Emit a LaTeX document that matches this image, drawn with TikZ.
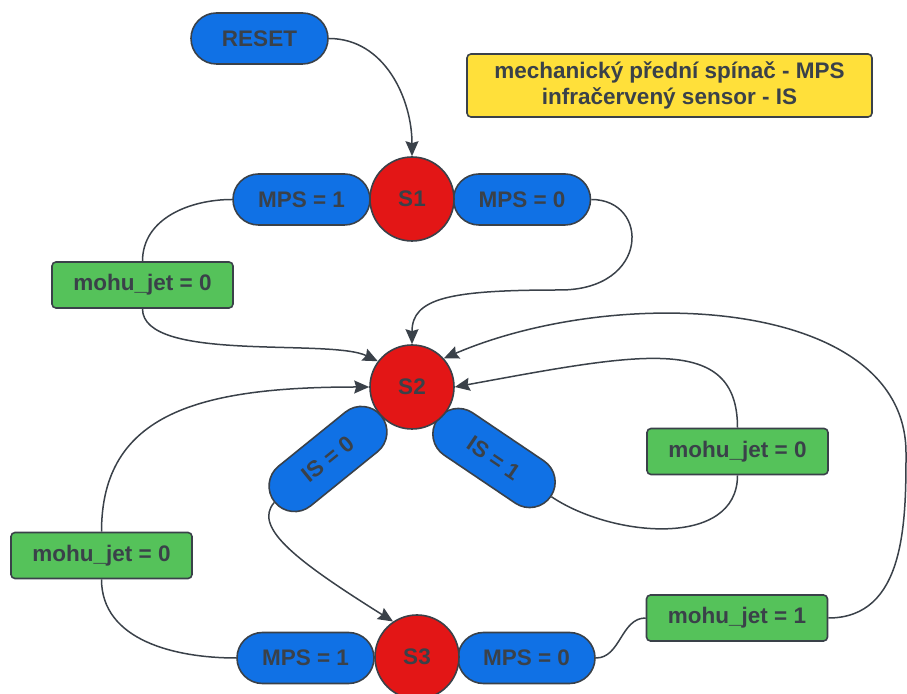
\documentclass[tikz,border=0pt]{standalone}
\usepackage{fontspec}
\setmainfont{Liberation Sans}
\usetikzlibrary{arrows.meta,positioning,shapes.misc}
\definecolor{pillblue}{HTML}{1071E5}
\definecolor{statered}{HTML}{E31616}
\definecolor{jetgreen}{HTML}{55C25A}
\definecolor{noteyellow}{HTML}{FFE03A}
\definecolor{inkgray}{HTML}{3A4149}
\begin{document}
\begin{tikzpicture}[x=1pt, y=1pt,
    every node/.style={font=\fontsize{22.5}{26}\selectfont\bfseries, text=inkgray, draw=inkgray, line width=1.6pt},
    pill/.style={rounded rectangle, fill=pillblue, minimum width=137, minimum height=51, inner sep=0pt},
    state/.style={circle, fill=statered, minimum size=84, inner sep=0pt},
    jetbox/.style={rectangle, rounded corners=4pt, fill=jetgreen, minimum width=181, minimum height=46, inner sep=0pt},
    link/.style={draw=inkgray, line width=1.5pt},
    arr/.style={link, -{Stealth[length=15pt, width=13pt, inset=2pt]}}]
\useasboundingbox (0,0) rectangle (907,693);
% Legend and reset
\node[pill] (reset) at (259.5,654.5) {RESET};
\node[rectangle, rounded corners=4pt, fill=noteyellow, minimum width=405, minimum height=63, align=center, inner sep=0pt] (legend) at (669.5,607.5)
    {mechanický přední spínač - MPS\\infračervený sensor - IS};
% Condition pills
\node[pill] (mps1a) at (301.5,493.5) {MPS = 1};
\node[pill] (mps0a) at (522,493.5) {MPS = 0};
\node[pill, rotate=39] (is0) at (328,234) {IS = 0};
\node[pill, rotate=-34] (is1) at (494,235) {IS = 1};
\node[pill] (mps1b) at (305.5,35) {MPS = 1};
\node[pill] (mps0b) at (526.5,35) {MPS = 0};
% States
\node[state] (s1) at (412,494) {S1};
\node[state] (s2) at (412,306) {S2};
\node[state] (s3) at (417,36) {S3};
% Outputs
\node[jetbox] (jetA) at (142.5,408) {mohu\_jet = 0};
\node[jetbox] (jetB) at (737.5,241.5) {mohu\_jet = 0};
\node[jetbox] (jetC) at (101.5,137.5) {mohu\_jet = 0};
\node[jetbox] (jetD) at (737,75) {mohu\_jet = 1};
% Transitions
\draw[arr] (reset.east) to[out=0, in=90] (s1.north);
\draw[link] (mps1a.west) to[out=180, in=90] (jetA.north);
\draw[arr] (jetA.south) .. controls (142.5,330) and (330,355) .. (s2.143);
\draw[arr] (mps0a.east) .. controls (650,493.5) and (650,403) .. (560,403)
    .. controls (450,403) and (412,395) .. (s2.north);
\draw[link] (is1.east) to[out=-34, in=-90] (jetB.south);
\draw[arr] (jetB.north) .. controls (737.5,360) and (640,340) .. (s2.east);
\draw[arr] (is0.west) .. controls (252,165) and (300,130) .. (s3.124);
\draw[arr] (jetC.north) .. controls (101.5,280) and (200,306) .. (s2.west);
\draw[link] (jetC.south) to[out=-90, in=180] (mps1b.west);
\draw[link] (mps0b.east) to[out=0, in=180] (jetD.west);
\draw[arr] (jetD.east) .. controls (905,75) and (906,170) .. (906,240)
    .. controls (906,395) and (620,410) .. (s2.42);
\end{tikzpicture}
\end{document}
